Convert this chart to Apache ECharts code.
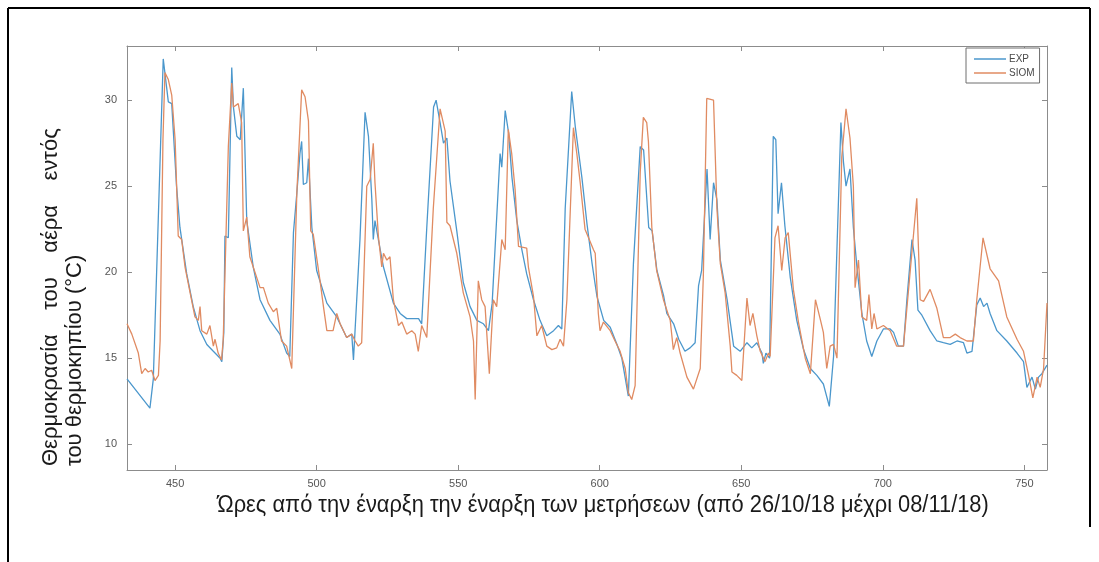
<!DOCTYPE html>
<html>
<head>
<meta charset="utf-8">
<script src="https://cdn.jsdelivr.net/npm/echarts@6/dist/echarts.min.js"></script>
<style>
  html, body { margin: 0; padding: 0; background: #fff; }
  #main { width: 1099px; height: 562px; }
</style>
</head>
<body>
<div id="main"></div>
<script>
// hours since start of measurements, temperature (°C)
const expHours = [433.0, 441.1, 442.3, 445.8, 446.3, 447.6, 448.8, 450.5, 451.7, 454.1, 456.4, 458.8, 461.2, 463.5, 465.9, 466.5, 467.2, 467.6, 468.8, 470.0, 470.6, 471.8, 473.0, 474.1, 475.3, 477.6, 480.0, 483.5, 487.0, 489.4, 490.5, 491.8, 493.0, 494.1, 494.7, 495.3, 496.5, 497.1, 498.3, 500.0, 503.6, 507.1, 510.6, 512.4, 513.0, 515.3, 517.1, 518.3, 519.5, 520.0, 520.6, 521.8, 523.6, 527.1, 529.5, 531.8, 536.0, 537.1, 538.9, 541.3, 542.2, 543.6, 544.8, 546.0, 547.1, 549.5, 551.8, 554.2, 556.6, 558.9, 560.7, 562.0, 564.8, 565.4, 566.6, 567.8, 569.0, 570.7, 572.5, 574.2, 576.6, 578.9, 581.3, 583.7, 585.4, 586.6, 587.8, 590.1, 591.4, 592.6, 593.7, 595.5, 597.3, 599.0, 601.4, 603.7, 606.1, 607.8, 610.1, 611.9, 614.3, 615.5, 617.3, 618.5, 620.2, 622.6, 623.7, 626.1, 627.9, 630.1, 631.9, 633.7, 634.9, 636.0, 637.9, 639.0, 640.2, 641.4, 642.6, 645.0, 646.2, 647.3, 649.6, 652.0, 653.7, 655.5, 657.3, 657.8, 658.7, 660.0, 661.3, 662.2, 663.0, 664.2, 665.4, 667.3, 669.6, 672.0, 674.4, 676.7, 679.0, 681.1, 682.6, 685.2, 686.1, 687.0, 688.4, 689.6, 690.8, 692.6, 694.3, 696.1, 697.9, 700.2, 702.6, 703.8, 705.5, 707.3, 708.5, 710.3, 711.4, 712.4, 713.8, 716.7, 719.1, 721.4, 723.8, 726.2, 728.5, 729.7, 731.5, 733.2, 734.4, 735.6, 736.8, 737.9, 740.3, 743.8, 747.4, 749.7, 750.9, 752.7, 753.9, 755.0, 756.2, 758.0];
const expTemp = [13.8, 12.1, 13.8, 32.4, 32.5, 29.9, 29.8, 25.0, 22.6, 19.9, 18.0, 16.6, 15.8, 15.4, 15.0, 14.8, 16.5, 22.1, 22.0, 31.9, 29.6, 27.9, 27.7, 30.7, 23.0, 20.3, 18.4, 17.2, 16.4, 15.3, 15.1, 22.3, 24.6, 26.9, 27.6, 25.1, 25.2, 26.6, 22.6, 20.1, 18.2, 17.4, 16.2, 16.4, 14.9, 21.9, 29.3, 27.9, 24.2, 21.9, 23.0, 21.9, 20.3, 18.2, 17.6, 17.3, 17.3, 17.0, 22.6, 29.6, 30.0, 28.7, 27.5, 27.8, 25.3, 22.4, 19.4, 18.0, 17.2, 17.0, 16.6, 18.2, 26.9, 26.1, 29.4, 28.1, 25.5, 23.0, 21.3, 19.9, 18.4, 17.2, 16.3, 16.6, 16.9, 16.7, 23.7, 30.5, 28.4, 26.9, 25.5, 22.8, 20.5, 18.6, 17.2, 16.8, 15.8, 15.0, 12.8, 20.5, 27.3, 27.1, 22.6, 22.4, 20.1, 18.6, 17.6, 17.0, 16.1, 15.4, 15.6, 15.9, 19.2, 20.1, 26.0, 21.9, 25.2, 24.2, 20.7, 18.4, 17.0, 15.7, 15.4, 15.9, 15.6, 15.9, 15.3, 14.7, 15.3, 15.0, 27.9, 27.7, 23.4, 25.2, 22.7, 19.7, 17.2, 15.5, 14.4, 14.0, 13.5, 12.2, 15.1, 28.7, 26.4, 25.0, 26.0, 22.6, 20.4, 17.6, 16.0, 15.1, 16.0, 16.7, 16.7, 16.5, 15.7, 15.7, 18.4, 21.9, 20.7, 17.8, 17.5, 16.6, 16.0, 15.9, 15.8, 16.0, 15.9, 15.3, 15.4, 18.1, 18.5, 18.0, 18.2, 17.6, 16.6, 16.0, 15.3, 14.8, 13.3, 13.9, 13.2, 13.9, 14.1, 14.6];

const siomHours = [433.0, 434.7, 437.0, 438.2, 439.4, 440.5, 441.7, 442.9, 444.1, 444.7, 445.7, 446.4, 447.6, 448.8, 450.0, 451.1, 452.3, 453.5, 455.3, 457.0, 458.2, 458.8, 459.4, 461.2, 462.3, 463.5, 464.1, 465.2, 466.4, 467.0, 468.8, 470.0, 470.6, 472.3, 473.5, 474.1, 475.3, 476.4, 480.0, 481.2, 482.9, 484.7, 485.9, 487.6, 489.4, 491.2, 493.0, 494.7, 495.9, 497.1, 497.9, 498.8, 501.2, 502.4, 503.6, 505.8, 507.1, 508.3, 510.6, 512.4, 513.6, 514.7, 515.9, 517.7, 518.9, 520.0, 520.6, 521.8, 523.0, 523.6, 524.8, 525.9, 527.1, 528.9, 530.1, 531.8, 533.6, 534.8, 535.9, 537.1, 538.9, 541.2, 543.6, 545.4, 546.0, 547.1, 549.5, 551.8, 554.2, 555.4, 556.0, 557.1, 558.3, 559.5, 561.0, 562.4, 563.6, 565.4, 566.6, 567.7, 568.9, 570.1, 571.3, 574.2, 574.8, 576.6, 577.8, 579.5, 581.3, 583.1, 584.8, 586.0, 587.2, 588.4, 590.7, 591.9, 593.1, 594.8, 597.8, 598.4, 599.5, 600.1, 601.3, 603.7, 605.4, 607.2, 609.0, 610.1, 611.3, 612.5, 614.3, 615.4, 616.6, 617.2, 618.4, 620.1, 622.5, 624.9, 626.0, 627.2, 628.4, 630.8, 633.1, 635.5, 636.6, 637.8, 640.2, 640.8, 641.4, 642.6, 644.3, 646.1, 646.7, 648.4, 650.2, 652.0, 653.1, 654.1, 655.5, 656.7, 658.4, 659.6, 660.2, 661.9, 663.0, 664.3, 665.5, 666.6, 668.4, 670.2, 672.6, 674.4, 676.2, 678.0, 679.0, 680.2, 681.4, 682.6, 683.8, 685.5, 687.0, 688.4, 689.6, 690.2, 691.4, 692.6, 694.3, 695.1, 696.1, 696.9, 697.9, 700.2, 702.6, 704.9, 707.3, 709.7, 712.0, 713.2, 714.4, 716.7, 719.1, 721.4, 723.8, 725.6, 727.3, 729.7, 732.0, 733.2, 735.4, 737.9, 740.9, 743.8, 747.4, 749.7, 751.5, 753.0, 754.5, 755.6, 756.8, 758.0];
const siomTemp = [17.0, 16.4, 15.3, 14.1, 14.4, 14.2, 14.3, 13.7, 14.0, 16.0, 27.7, 31.6, 31.2, 30.3, 27.7, 22.1, 21.9, 20.3, 18.8, 17.4, 17.2, 18.0, 16.6, 16.4, 16.9, 15.7, 16.1, 15.3, 14.9, 16.1, 27.3, 31.0, 29.6, 29.8, 28.7, 22.4, 23.2, 20.9, 19.1, 19.1, 18.2, 17.7, 17.9, 16.0, 15.7, 14.4, 24.6, 30.6, 30.2, 28.8, 22.4, 22.2, 19.5, 18.0, 16.6, 16.6, 17.6, 17.0, 16.2, 16.4, 16.0, 15.7, 15.9, 25.0, 25.4, 27.5, 25.2, 22.1, 20.3, 21.1, 20.7, 20.9, 18.4, 16.9, 17.1, 16.4, 16.6, 16.4, 15.4, 16.9, 16.2, 23.7, 29.5, 28.2, 22.9, 22.7, 21.1, 18.8, 17.4, 16.0, 12.6, 19.5, 18.4, 18.0, 14.1, 18.4, 18.0, 21.9, 21.3, 28.3, 26.9, 24.8, 21.5, 21.4, 20.3, 18.6, 16.3, 16.9, 15.7, 15.5, 15.6, 16.1, 15.7, 18.4, 28.4, 26.9, 25.2, 22.5, 21.3, 21.1, 17.6, 16.6, 17.1, 16.6, 16.0, 15.4, 14.4, 13.0, 12.6, 13.4, 25.8, 29.0, 28.7, 27.6, 22.6, 20.1, 18.4, 17.2, 15.5, 16.2, 15.3, 13.9, 13.2, 14.4, 19.8, 30.1, 30.0, 29.9, 23.7, 20.5, 18.8, 15.7, 14.2, 14.0, 13.7, 18.5, 16.9, 17.6, 16.3, 15.4, 14.8, 15.3, 15.1, 22.0, 22.7, 20.1, 22.0, 22.3, 19.0, 17.1, 15.0, 14.1, 18.4, 17.2, 16.5, 14.4, 15.7, 15.8, 15.0, 26.7, 29.5, 27.8, 25.0, 19.1, 20.7, 17.4, 17.2, 18.7, 16.7, 17.6, 16.7, 16.9, 16.6, 15.7, 15.7, 20.1, 24.3, 18.4, 18.3, 19.0, 17.9, 16.2, 16.2, 16.4, 16.2, 16.0, 16.0, 18.4, 22.0, 20.2, 19.5, 17.4, 16.1, 15.4, 14.0, 12.7, 13.9, 13.3, 14.4, 18.2];

const xTicks = [450, 500, 550, 600, 650, 700, 750];
const yTicks = [10, 15, 20, 25, 30];

const seriesNames = ['EXP', 'SIOM'];

const xMin = 433, xMax = 758;
const yMin = 8.5, yMax = 33.15;

const axisGray = '#8c8c8c';
const font = 'Liberation Sans';

const zip = (xs, ys) => xs.map((x, i) => [x, ys[i]]);

const myChart = echarts.init(document.getElementById('main'), null, { renderer: 'canvas' });

const baseAxis = {
  type: 'value',
  axisLine: { show: true, lineStyle: { color: axisGray, width: 1 } },
  splitLine: { show: false }
};

const option = {
  animation: false,
  backgroundColor: '#fff',
  grid: { left: 127, top: 46, width: 920, height: 424 },
  legend: {
    data: seriesNames,
    orient: 'vertical',
    left: 966,
    top: 48,
    icon: 'rect',
    itemWidth: 32,
    itemHeight: 1.5,
    itemGap: 4,
    padding: [6, 5, 5, 8],
    borderColor: '#6f6f6f',
    borderWidth: 1,
    borderRadius: 0,
    backgroundColor: '#fff',
    textStyle: { fontFamily: font, fontSize: 10, color: '#4a4a4a', padding: [0, 0, 0, -2] }
  },
  xAxis: [
    {
      ...baseAxis,
      min: xMin, max: xMax,
      axisTick: { show: true, inside: true, length: 5, lineStyle: { color: axisGray }, customValues: xTicks },
      axisLabel: { customValues: xTicks, color: '#555', fontFamily: font, fontSize: 11, margin: 8 }
    },
    {
      ...baseAxis,
      position: 'top',
      min: xMin, max: xMax,
      axisTick: { show: true, inside: true, length: 5, lineStyle: { color: axisGray }, customValues: xTicks },
      axisLabel: { show: false }
    }
  ],
  yAxis: [
    {
      ...baseAxis,
      min: yMin, max: yMax,
      axisTick: { show: true, inside: true, length: 5, lineStyle: { color: axisGray }, customValues: yTicks },
      axisLabel: { customValues: yTicks, color: '#555', fontFamily: font, fontSize: 11, margin: 10 }
    },
    {
      ...baseAxis,
      position: 'right',
      min: yMin, max: yMax,
      axisTick: { show: true, inside: true, length: 5, lineStyle: { color: axisGray }, customValues: yTicks },
      axisLabel: { show: false }
    }
  ],
  series: [
    {
      name: 'EXP',
      type: 'line',
      data: zip(expHours, expTemp),
      showSymbol: false,
      symbol: 'none',
      color: '#4b97cc',
      lineStyle: { width: 1.3, color: '#4b97cc' }
    },
    {
      name: 'SIOM',
      type: 'line',
      data: zip(siomHours, siomTemp),
      showSymbol: false,
      symbol: 'none',
      color: '#e08b62',
      lineStyle: { width: 1.3, color: '#e08b62' }
    }
  ],
  graphic: [
    // outer frame
    { type: 'line', shape: { x1: 8, y1: 8, x2: 1090, y2: 8 }, style: { stroke: '#000', lineWidth: 2 } },
    { type: 'line', shape: { x1: 8, y1: 8, x2: 8, y2: 562 }, style: { stroke: '#000', lineWidth: 2 } },
    { type: 'line', shape: { x1: 1090, y1: 8, x2: 1090, y2: 527 }, style: { stroke: '#000', lineWidth: 2 } },
    // y axis title (two rotated lines)
    {
      type: 'text', x: 51, y: 466, rotation: Math.PI / 2,
      style: { text: 'Θερμοκρασία    του    αέρα    εντός', font: '22px "Liberation Sans"', fill: '#1a1a1a', textAlign: 'left', textVerticalAlign: 'middle' }
    },
    {
      type: 'text', x: 75, y: 466, rotation: Math.PI / 2,
      style: { text: 'του θερμοκηπίου (°C)', font: '22px "Liberation Sans"', fill: '#1a1a1a', textAlign: 'left', textVerticalAlign: 'middle' }
    },
    // x axis title
    {
      type: 'text', x: 603, y: 506, scaleX: 0.95,
      style: { text: 'Ώρες από την έναρξη την έναρξη των μετρήσεων (από 26/10/18 μέχρι 08/11/18)', font: '23px "Liberation Sans"', fill: '#1a1a1a', textAlign: 'center', textVerticalAlign: 'middle' }
    }
  ]
};

myChart.setOption(option);
</script>
</body>
</html>
